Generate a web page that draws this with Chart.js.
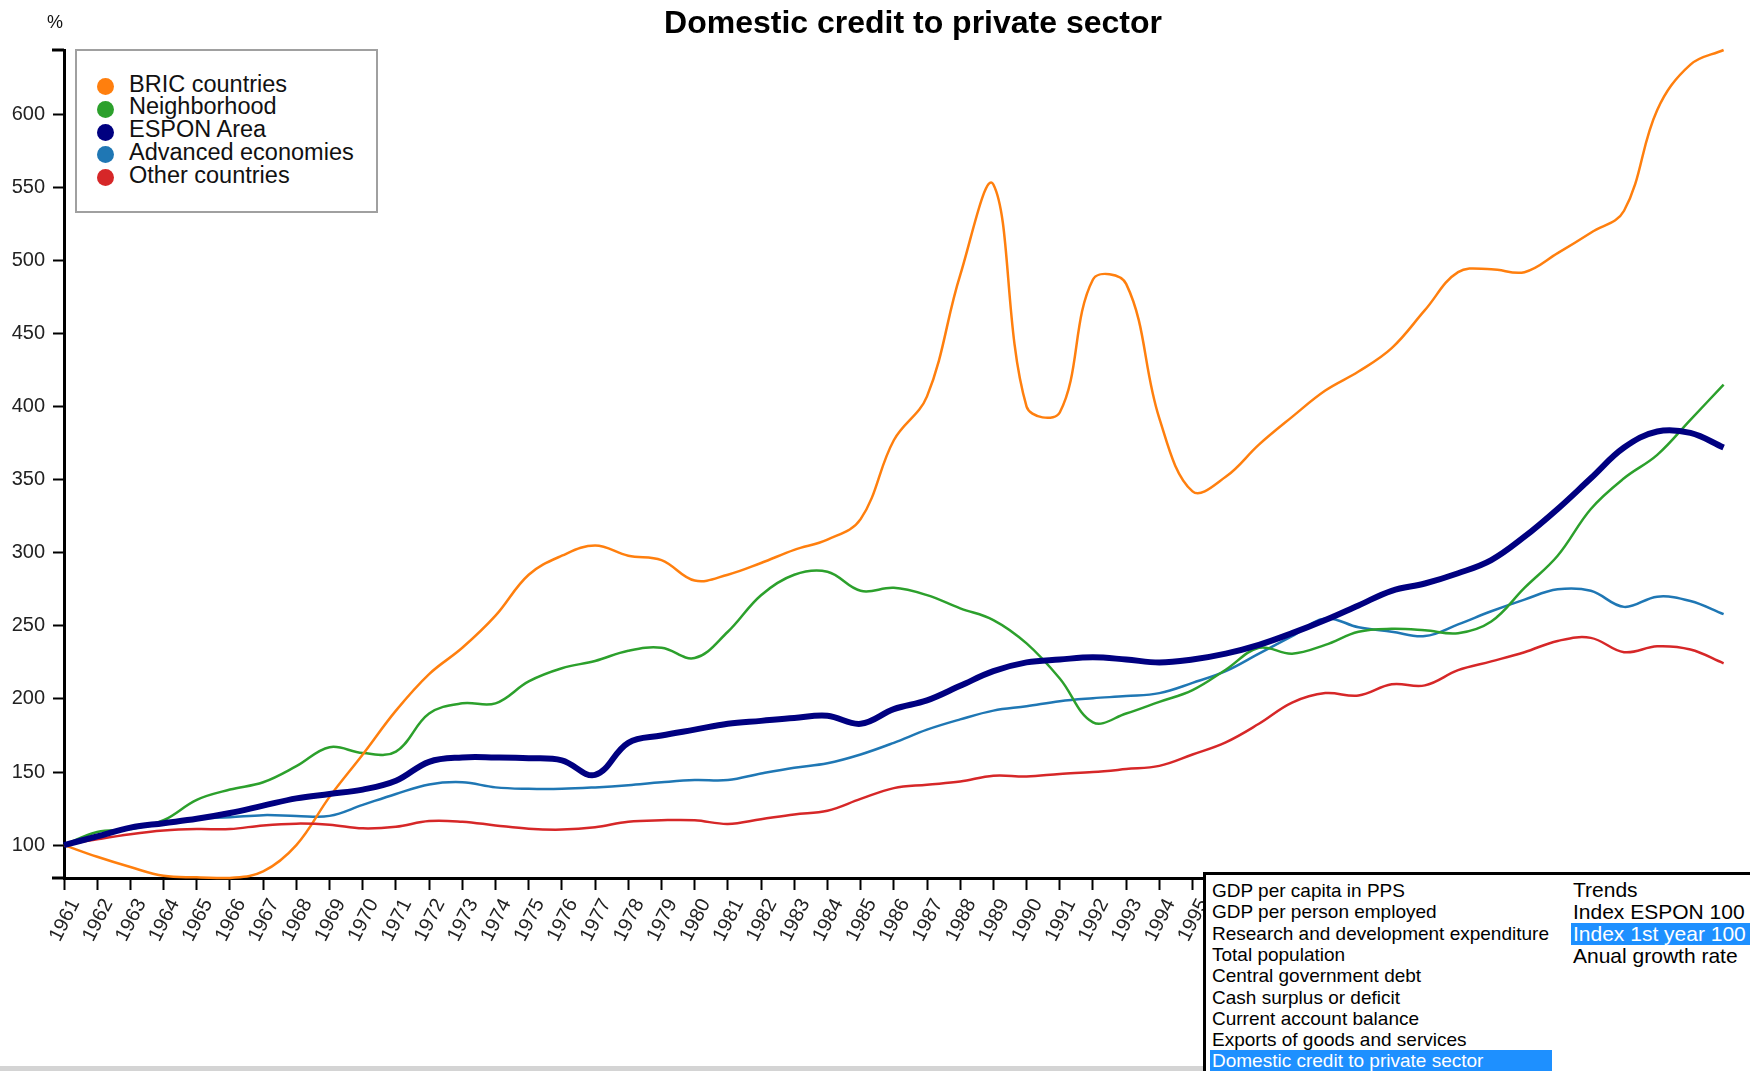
<!DOCTYPE html>
<html><head><meta charset="utf-8">
<script src="https://cdn.jsdelivr.net/npm/chart.js@4.4.1/dist/chart.umd.min.js"></script>
<style>
html,body{margin:0;padding:0;background:#fff;overflow:hidden;width:1750px;height:1071px;}
body{position:relative;font-family:"Liberation Sans",Arial,sans-serif;color:#111;}
#c{position:absolute;left:0;top:0;}
.t{position:absolute;white-space:nowrap;}
#title{left:913px;top:7px;transform:translateX(-50%);font-size:32px;line-height:31px;font-weight:bold;color:#000;}
#unit{left:47px;top:13px;font-size:18px;line-height:18px;color:#111;}
#legend{position:absolute;left:75px;top:49px;width:299px;height:160px;border:2px solid #a0a0a0;background:#fff;}
.dot{position:absolute;width:17px;height:17px;border-radius:50%;}
.lt{position:absolute;font-size:23.5px;line-height:23.5px;white-space:nowrap;color:#111;}
#panel{position:absolute;left:1203px;top:872px;right:0;bottom:0;border-top:3px solid #000;border-left:3px solid #000;background:#fff;}
#scroll{position:absolute;left:0;top:1066px;width:1750px;height:5px;background:#d4d4d4;}
.opt{position:absolute;font-size:19px;height:21.3px;line-height:21.3px;white-space:nowrap;padding-left:2px;color:#000;}
.opt2{position:absolute;font-size:21px;height:22px;line-height:22px;white-space:nowrap;padding-left:2px;color:#000;}
.sel{background:#1e90ff;color:#fff;}
</style></head><body>
<canvas id="c" width="1750" height="1071"></canvas>
<div id="title" class="t">Domestic credit to private sector</div>
<div id="unit" class="t">%</div>
<div id="legend"></div>
<div id="scroll"></div>
<div id="panel"></div>
<script>
const years = ["1961","1962","1963","1964","1965","1966","1967","1968","1969","1970",
"1971","1972","1973","1974","1975","1976","1977","1978","1979","1980",
"1981","1982","1983","1984","1985","1986","1987","1988","1989","1990",
"1991","1992","1993","1994","1995","1996","1997","1998","1999","2000",
"2001","2002","2003","2004","2005","2006","2007","2008","2009","2010","2011"];

const bric = [100,92,85,79,78,77.5,82,100,133,162,
192,217,235,257,285,298,305,298,295,281,
285,293,302,309,323,377,407,490,552,400,
396,487,484,392,342,352,374,393,411,424,
440,466,492,494,492,505,519,534,603,634,644];

const neighborhood = [100,109,111,117,131,138,143,154,167,163,
164,190,197,197,212,221,226,233,235,228,
246,271,285,287,274,276,271,262,254,238,
214,184,190,198,206,220,235,231,237,246,
248,247,245,253,276,298,330,351,367,391,415];

const espon = [100,106,112,115,118,122,127,132,135,138,
144,157,160,160,159.5,158,148,170,175,179,
183,185,187,188.5,183,193,199,209,219,225,
227,228.5,227,225,227,231,237,245,254,264,
274,279,286,295,311,330,351,372,383,382,372];

const advanced = [100,106,112,115,118,119,120.5,120,120,127.5,
135,141.5,143,139.5,138.5,138.5,139.5,141,143,144.5,
144.5,149,153,156,162,170,179,186,192,195,
198.5,200.5,202,204,211,219,231,243,255,249,
246,243,251,260,268,275,274,263,270,267,258];

const other = [100,104,107.5,110,111,111,113.5,114.7,114,111.5,
112.6,116.5,116,113.5,111.2,110.6,112.2,116,117,117,
114.5,117.7,121,123.5,131.6,139,141.3,143.5,147.5,147,
148.7,150,152,154.2,162,170.3,183,197.5,204,202.3,
210,209.3,219.7,225.7,232,239.7,241.8,232,236,233.8,224.4];

const seriesNames = ["BRIC countries","Neighborhood","ESPON Area","Advanced economies","Other countries"];
const yTickValues = [100,150,200,250,300,350,400,450,500,550,600];
const indicatorOptions = ["GDP per capita in PPS","GDP per person employed","Research and development expenditure","Total population","Central government debt","Cash surplus or deficit","Current account balance","Exports of goods and services","Domestic credit to private sector"];
const modeOptions = ["Trends","Index ESPON 100","Index 1st year 100","Anual growth rate"];
const selectedIndicator = "Domestic credit to private sector";
const selectedMode = "Index 1st year 100";

// styles
const colors = ["#ff7f0e","#2ca02c","#000080","#1f77b4","#d62728"];
const widths = [2.5,2.5,6,2.5,2.5];
const drawOrder = [2,3,0,4,1];

const series = [bric, neighborhood, espon, advanced, other];
const allVals = series.flat();
const yMin = Math.min(...allVals);
const yMax = Math.max(...allVals);

// legend
const legend = document.getElementById('legend');
seriesNames.forEach((n,i)=>{
  const cy = 86.5 + i*22.8 - 51;
  const d = document.createElement('div');
  d.className='dot'; d.style.background=colors[i];
  d.style.left=(105-77-8.5)+'px'; d.style.top=(cy-8.5)+'px';
  legend.appendChild(d);
  const t = document.createElement('div');
  t.className='lt'; t.textContent=n;
  t.style.left=(129-77)+'px'; t.style.top=(cy+6-19.9)+'px';
  legend.appendChild(t);
});

// panel
const panel = document.getElementById('panel');
indicatorOptions.forEach((o,i)=>{
  const d=document.createElement('div');
  d.className='opt'+(o===selectedIndicator?' sel':'');
  d.textContent=o;
  d.style.left=(1210-1206)+'px'; d.style.top=(880+i*21.3-875)+'px'; d.style.width=(1552-1210-2)+'px';
  panel.appendChild(d);
});
modeOptions.forEach((o,i)=>{
  const d=document.createElement('div');
  d.className='opt2'+(o===selectedMode?' sel':'');
  d.textContent=o;
  d.style.left=(1571-1206)+'px'; d.style.top=(879+i*22-875)+'px'; d.style.width=(1750-1571)+'px';
  panel.appendChild(d);
});

const outerTicks = {
  id:'outerTicks',
  afterDraw(chart){
    const {ctx, chartArea} = chart;
    ctx.save();
    ctx.strokeStyle='#000'; ctx.lineWidth=3;
    ctx.beginPath(); ctx.moveTo(chartArea.left-12, chartArea.top); ctx.lineTo(chartArea.left, chartArea.top); ctx.stroke();
    ctx.beginPath(); ctx.moveTo(chartArea.left-12, chartArea.bottom); ctx.lineTo(chartArea.left, chartArea.bottom); ctx.stroke();
    ctx.restore();
  }
};

const tickFont = {family:"'Liberation Sans', Arial, sans-serif", size:20};

new Chart(document.getElementById('c'), {
  type:'line',
  data:{
    labels: years,
    datasets: series.map((s,i)=>({
      label: seriesNames[i], data: s,
      borderColor: colors[i], backgroundColor: colors[i],
      borderWidth: widths[i], pointRadius:0, tension:0.38,
      fill:false, clip:false, order: drawOrder[i]
    }))
  },
  options:{
    responsive:false, animation:false, devicePixelRatio:1,
    layout:{padding:{left:0,right:5,top:50,bottom:0}},
    plugins:{legend:{display:false}, title:{display:false}, tooltip:{enabled:false}},
    scales:{
      x:{
        type:'category', offset:false,
        grid:{display:true, drawOnChartArea:false, drawTicks:true, tickLength:12, tickWidth:2, tickColor:'#000'},
        border:{display:true, color:'#000', width:3},
        ticks:{autoSkip:false, minRotation:63, maxRotation:63, font:tickFont, color:'#222', padding:5, labelOffset:11},
        afterFit(s){ s.height = 193; }
      },
      y:{
        type:'linear', min:yMin, max:yMax,
        grid:{display:true, drawOnChartArea:false, drawTicks:true, tickLength:11, tickWidth:2, tickColor:'#000'},
        border:{display:true, color:'#000', width:3},
        ticks:{font:tickFont, color:'#222', padding:8},
        afterBuildTicks(s){ s.ticks = yTickValues.map(v=>({value:v})); },
        afterFit(s){ s.width = 64; }
      }
    }
  },
  plugins:[outerTicks]
});
</script>
</body></html>
